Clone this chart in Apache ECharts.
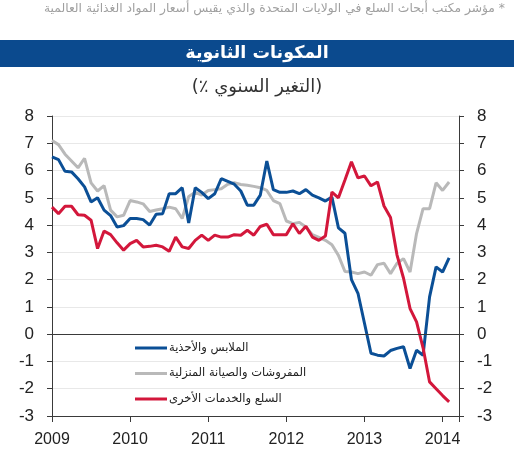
<!DOCTYPE html>
<html>
<head>
<meta charset="utf-8">
<script src="https://cdn.jsdelivr.net/npm/echarts@6/dist/echarts.min.js"></script>
<style>
  html, body { margin: 0; padding: 0; background: #fff; }
  #chart { width: 514px; height: 450px; }
</style>
</head>
<body>
<div id="chart"></div>
<script>
// monthly values, Jan 2009 .. Feb 2014
const startYear = 2009
const yearTicks = [2009, 2010, 2011, 2012, 2013, 2014]

const seriesNames = [
  'الملابس والأحذية',
  'المفروشات والصيانة المنزلية',
  'السلع والخدمات الأخرى',
]

const clothing = [
  6.5, 6.4, 5.97, 5.95, 5.7, 5.4, 4.85, 5.0, 4.55, 4.35, 3.93, 3.98,
  4.24, 4.24, 4.2, 4.0, 4.4, 4.42, 5.15, 5.15, 5.37, 4.08, 5.37, 5.2,
  4.97, 5.15, 5.7, 5.6, 5.5, 5.25, 4.73, 4.73, 5.1, 6.35, 5.3, 5.2,
  5.2, 5.25, 5.15, 5.3, 5.1, 5.0, 4.88, 5.03, 3.9, 3.7, 2.0, 1.5,
  0.4, -0.7, -0.77, -0.8, -0.6, -0.52, -0.46, -1.26, -0.59, -0.77, 1.37, 2.47,
  2.28, 2.8,
]

const furnishings = [
  7.1, 6.95, 6.6, 6.35, 6.1, 6.45, 5.55, 5.25, 5.45, 4.55, 4.3, 4.36,
  4.9, 4.85, 4.78, 4.5, 4.55, 4.6, 4.66, 4.6, 4.24, 5.05, 5.2, 5.1,
  5.27, 5.3, 5.33, 5.5, 5.55, 5.49, 5.46, 5.42, 5.37, 5.27, 4.9, 4.79,
  4.15, 4.05, 4.1, 3.93, 3.65, 3.55, 3.44, 3.28, 2.89, 2.3, 2.28, 2.22,
  2.28, 2.16, 2.55, 2.6, 2.22, 2.6, 2.77, 2.28, 3.69, 4.6, 4.6, 5.55,
  5.27, 5.58,
]

const otherGoods = [
  4.66, 4.42, 4.69, 4.69, 4.38, 4.36, 4.18, 3.14, 3.78, 3.65, 3.35, 3.08,
  3.32, 3.44, 3.2, 3.22, 3.26, 3.2, 3.04, 3.56, 3.2, 3.14, 3.44, 3.63,
  3.44, 3.63, 3.56, 3.56, 3.65, 3.63, 3.81, 3.63, 3.95, 4.03, 3.65, 3.65,
  3.65, 4.05, 3.69, 3.96, 3.56, 3.44, 3.6, 5.21, 5.0, 5.65, 6.32, 5.73,
  5.8, 5.44, 5.58, 4.7, 4.28, 2.9, 2.05, 0.94, 0.45, -0.5, -1.75, -2.0,
  -2.25, -2.48,
]

const colors = ['#0b4f96', '#b9b9b9', '#d3173b']

const toPoints = (list) => list.map((v, i) => [startYear + i / 12, v])

const numFont = 'Liberation Sans, Arial, sans-serif'
const arFont = 'DejaVu Sans, sans-serif'

const axisColor = '#3a3a3a'

const yAxisBase = {
  type: 'value',
  min: -3,
  max: 8,
  interval: 1,
  axisLine: { show: true, lineStyle: { color: axisColor, width: 1 } },
  axisTick: { show: true, length: 5, lineStyle: { color: axisColor } },
  axisLabel: { fontFamily: numFont, fontSize: 17, color: '#222', margin: 18 },
  splitLine: { show: true, lineStyle: { color: '#e8e8e8', width: 1 } },
}

const chart = echarts.init(document.getElementById('chart'), null, { renderer: 'canvas' })

chart.setOption({
  animation: false,
  backgroundColor: '#fff',
  grid: { left: 52, right: 55, top: 116, bottom: 34, containLabel: false },
  graphic: [
    {
      type: 'text',
      right: 9,
      top: 3,
      style: {
        text: '\u200F* مؤشر مكتب أبحاث السلع في الولايات المتحدة والذي يقيس أسعار المواد الغذائية العالمية',
        fontFamily: arFont,
        fontSize: 12.3,
        fill: '#a0a0a0',
      },
    },
    {
      type: 'rect',
      left: 0,
      top: 40,
      shape: { width: 514, height: 27 },
      style: { fill: '#0b4a8e' },
    },
    {
      type: 'text',
      x: 257,
      y: 53,
      style: {
        text: 'المكونات الثانوية',
        fontFamily: arFont,
        fontSize: 17.5,
        fontWeight: 'bold',
        fill: '#fff',
        align: 'center',
        verticalAlign: 'middle',
      },
    },
    {
      type: 'text',
      x: 257,
      y: 87,
      style: {
        // rich tokens so the % sign stays beside the left bracket
        text: '{p|(٪ }{w|التغير السنوي}{p|)}',
        rich: {
          p: { fontFamily: arFont, fontSize: 18, fill: '#333' },
          w: { fontFamily: arFont, fontSize: 18, fill: '#333' },
        },
        fontFamily: arFont,
        fontSize: 18,
        fill: '#333',
        align: 'center',
        verticalAlign: 'middle',
      },
    },
  ],
  legend: {
    data: seriesNames,
    orient: 'vertical',
    left: 135,
    top: 341,
    padding: 0,
    icon: 'rect',
    itemWidth: 32,
    itemHeight: 3,
    itemGap: 11.5,
    textStyle: { fontFamily: arFont, fontSize: 11.5, color: '#222', lineHeight: 14, padding: [0, 0, 0, -3] },
  },
  xAxis: {
    type: 'value',
    min: startYear,
    max: 2014.21,
    interval: 1,
    axisLine: { show: true, onZero: false, lineStyle: { color: axisColor, width: 1 } },
    axisTick: { show: true, length: 6, inside: false, lineStyle: { color: axisColor } },
    axisLabel: {
      fontFamily: numFont,
      fontSize: 16,
      color: '#222',
      margin: 16,
      formatter: (v) => (yearTicks.includes(v) ? String(v) : ''),
    },
    splitLine: { show: false },
  },
  yAxis: [
    { ...yAxisBase, position: 'left' },
    { ...yAxisBase, position: 'right', splitLine: { show: false } },
  ],
  series: [
    {
      name: seriesNames[1],
      type: 'line',
      data: toPoints(furnishings),
      color: colors[1],
      showSymbol: false,
      lineStyle: { width: 3, color: colors[1] },
      markLine: {
        silent: true,
        symbol: 'none',
        label: { show: false },
        lineStyle: { color: '#3a3a3a', width: 1, type: 'solid' },
        data: [{ yAxis: 0 }],
      },
    },
    {
      name: seriesNames[0],
      type: 'line',
      data: toPoints(clothing),
      color: colors[0],
      showSymbol: false,
      lineStyle: { width: 3, color: colors[0] },
    },
    {
      name: seriesNames[2],
      type: 'line',
      data: toPoints(otherGoods),
      color: colors[2],
      showSymbol: false,
      lineStyle: { width: 3, color: colors[2] },
    },
  ],
})
</script>
</body>
</html>
